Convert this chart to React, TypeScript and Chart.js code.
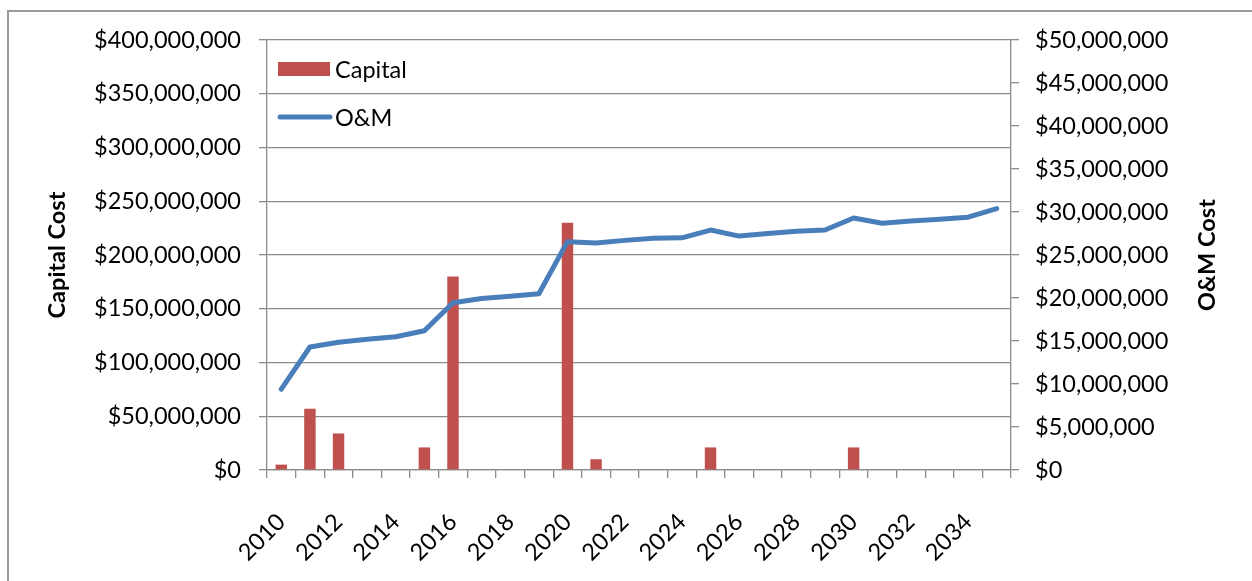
import React, { useEffect, useRef } from 'react';
import { Chart, registerables } from 'chart.js';

Chart.register(...registerables);

const years = [
  '2010', '2011', '2012', '2013', '2014', '2015', '2016', '2017', '2018', '2019',
  '2020', '2021', '2022', '2023', '2024', '2025', '2026', '2027', '2028', '2029',
  '2030', '2031', '2032', '2033', '2034', '2035',
];

const capitalCost = [
  5000000, 57000000, 34000000, 0, 0, 21000000, 180000000, 0, 0, 0,
  230000000, 10000000, 0, 0, 0, 21000000, 0, 0, 0, 0,
  21000000, 0, 0, 0, 0, 0,
];

const omCost = [
  9400000, 14300000, 14850000, 15200000, 15500000, 16200000, 19450000, 19950000, 20200000, 20500000,
  26550000, 26400000, 26700000, 26950000, 27000000, 27900000, 27200000, 27500000, 27750000, 27900000,
  29300000, 28700000, 28950000, 29150000, 29400000, 30400000,
];

const capitalAxis = { min: 0, max: 400000000, step: 50000000, title: 'Capital Cost' };
const omAxis = { min: 0, max: 50000000, step: 5000000, title: 'O&M Cost' };

const FONT = 'Lato, "Open Sans", sans-serif';
const FONT_SIZE = 23.5;
const GRID = '#8a8a8a';

const money = (v: number) =>
  '$' + Math.round(v).toString().replace(/\B(?=(\d{3})+(?!\d))/g, ',');

const legendPlugin = {
  id: 'excelLegend',
  afterDatasetsDraw(chart: any) {
    const { ctx, chartArea } = chart;
    ctx.save();
    ctx.font = `${FONT_SIZE}px ${FONT}`;
    ctx.textAlign = 'left';
    ctx.textBaseline = 'middle';
    chart.data.datasets.forEach((ds: any, i: number) => {
      const cy = chartArea.top + 29 + i * 48;
      const x0 = chartArea.left + 11;
      if (ds.type === 'line') {
        ctx.beginPath();
        ctx.strokeStyle = ds.borderColor;
        ctx.lineWidth = ds.borderWidth;
        ctx.lineCap = 'round';
        ctx.moveTo(x0 + 2, cy);
        ctx.lineTo(x0 + 52, cy);
        ctx.stroke();
      } else {
        ctx.fillStyle = ds.backgroundColor;
        ctx.fillRect(x0, cy - 7, 52, 14);
      }
      ctx.fillStyle = '#000';
      ctx.fillText(ds.label, x0 + 57, cy + 1);
    });
    ctx.restore();
  },
};

const rightTitlePlugin = {
  id: 'rightTitle',
  afterDraw(chart: any) {
    const { ctx, chartArea } = chart;
    ctx.save();
    ctx.translate(chart.width - 45, (chartArea.top + chartArea.bottom) / 2);
    ctx.rotate(-Math.PI / 2);
    ctx.font = `bold ${FONT_SIZE}px ${FONT}`;
    ctx.fillStyle = '#000';
    ctx.textAlign = 'center';
    ctx.textBaseline = 'middle';
    ctx.fillText(omAxis.title, 0, 0);
    ctx.restore();
  },
};

export default function App() {
  const ref = useRef<HTMLCanvasElement | null>(null);

  useEffect(() => {
    if (!ref.current) return;
    const chart = new Chart(ref.current, {
      type: 'bar',
      data: {
        labels: years,
        datasets: [
          {
            type: 'bar',
            label: 'Capital',
            data: capitalCost,
            backgroundColor: '#C0504D',
            borderWidth: 0,
            yAxisID: 'y',
            barPercentage: 0.4,
            categoryPercentage: 1,
            order: 1,
          },
          {
            type: 'line',
            label: 'O&M',
            data: omCost,
            borderColor: '#4A7EBB',
            backgroundColor: '#4A7EBB',
            borderWidth: 5,
            borderCapStyle: 'round',
            borderJoinStyle: 'round',
            pointRadius: 0,
            tension: 0,
            yAxisID: 'y1',
            order: 0,
          },
        ],
      } as any,
      options: {
        responsive: false,
        animation: false,
        devicePixelRatio: 1,
        layout: { padding: { top: 40, left: 0, right: 0, bottom: 0 } },
        plugins: {
          legend: { display: false },
          tooltip: { enabled: false },
        },
        scales: {
          x: {
            offset: true,
            grid: {
              offset: true,
              drawOnChartArea: false,
              drawTicks: true,
              tickLength: 8,
              color: GRID,
              lineWidth: 1.3,
            },
            border: { color: GRID, width: 1.3 },
            ticks: {
              autoSkip: false,
              maxRotation: 45,
              minRotation: 45,
              padding: 30,
              color: '#000',
              font: { family: FONT, size: FONT_SIZE },
              callback: (_v: any, i: number) => (i % 2 === 0 ? years[i] : ''),
            },
            afterFit: (s: any) => { s.height = 111; },
          },
          y: {
            position: 'left',
            min: capitalAxis.min,
            max: capitalAxis.max,
            grid: { color: GRID, lineWidth: 1.3, tickLength: 8 },
            border: { color: GRID, width: 1.3 },
            ticks: {
              stepSize: capitalAxis.step,
              padding: 18,
              color: '#000',
              font: { family: FONT, size: FONT_SIZE },
              callback: (v: any) => money(Number(v)),
            },
            title: {
              display: true,
              text: capitalAxis.title,
              color: '#000',
              font: { family: FONT, size: FONT_SIZE, weight: 'bold' },
              padding: { top: 43, bottom: 0 },
            },
            afterFit: (s: any) => { s.width = 267; },
          },
          y1: {
            position: 'right',
            min: omAxis.min,
            max: omAxis.max,
            grid: { drawOnChartArea: false, color: GRID, lineWidth: 1.3, tickLength: 8 },
            border: { color: GRID, width: 1.3 },
            ticks: {
              stepSize: omAxis.step,
              padding: 16,
              color: '#000',
              font: { family: FONT, size: FONT_SIZE },
              callback: (v: any) => money(Number(v)),
            },
            afterFit: (s: any) => { s.width = 241; },
          },
        },
      } as any,
      plugins: [legendPlugin, rightTitlePlugin],
    });
    return () => chart.destroy();
  }, []);

  return (
    <div style={{ position: 'fixed', left: 0, top: 0, width: 1252, height: 581, background: '#fff', overflow: 'hidden' }}>
      <div
        style={{
          position: 'absolute',
          left: 7,
          top: 10,
          width: 1400,
          height: 800,
          borderLeft: '2px solid #9a9a9a',
          borderTop: '2px solid #9a9a9a',
        }}
      />
      <canvas ref={ref} width={1252} height={581} style={{ position: 'absolute', left: 0, top: 0 }} />
    </div>
  );
}
